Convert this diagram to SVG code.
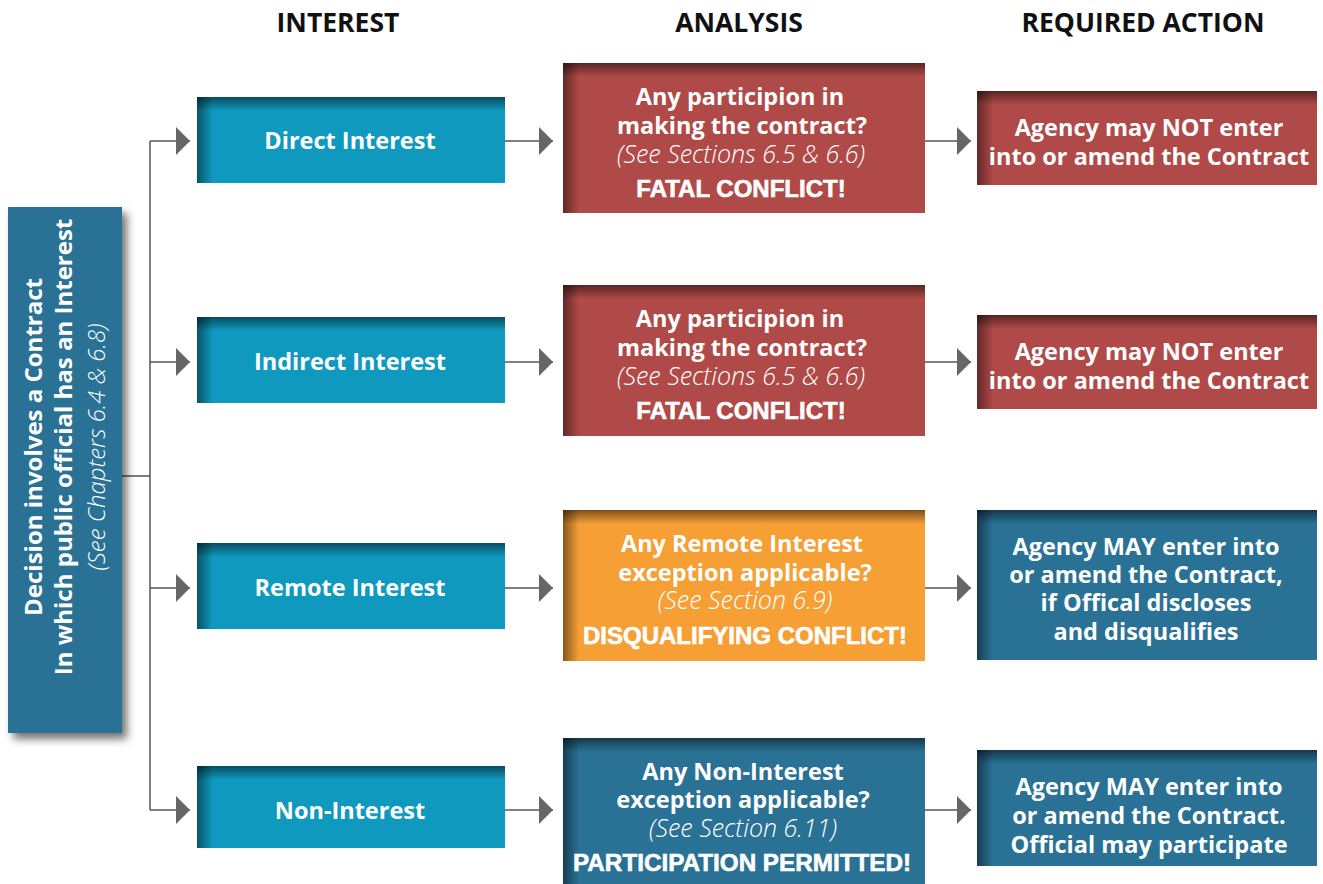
<svg xmlns="http://www.w3.org/2000/svg" width="1323" height="884" viewBox="0 0 1323 884">
<defs>
<style>
.hdr{font-family:"Open Sans","Liberation Sans",sans-serif;font-weight:700;font-size:26.5px;fill:#111;text-anchor:middle}
.t{font-family:"Open Sans","Liberation Sans",sans-serif;font-weight:700;font-size:23.5px;fill:#fff;text-anchor:middle}
.lt{font-family:"Open Sans","Liberation Sans",sans-serif;font-weight:700;font-size:24px;fill:#fff;text-anchor:middle}
.it{font-family:"Open Sans","Liberation Sans",sans-serif;font-style:italic;font-weight:300;font-size:24px;fill:#fff;text-anchor:middle}
.it2{font-family:"Open Sans","Liberation Sans",sans-serif;font-style:italic;font-weight:300;font-size:25px;fill:#fff;text-anchor:middle}
.bk{font-family:"Liberation Sans","Open Sans",sans-serif;font-weight:700;font-size:24px;fill:#fff;stroke:#fff;stroke-width:0.6;text-anchor:middle}
.cyan{fill:#0f99bf}
.red{fill:#b04a48}
.org{fill:#f59f35}
.blu{fill:#2a7196}
.conn{stroke:#555;stroke-width:1.5;fill:none}
</style>
<marker id="ah" markerUnits="userSpaceOnUse" markerWidth="14" markerHeight="28" refX="14" refY="14" orient="auto" viewBox="0 0 14 28">
<path d="M0,0 L14,14 L0,28 Z" fill="#666"/>
</marker>
<linearGradient id="gt" x1="0" y1="0" x2="0" y2="1">
<stop offset="0" stop-color="#000" stop-opacity="0.5"/>
<stop offset="1" stop-color="#000" stop-opacity="0"/>
</linearGradient>
<linearGradient id="gl" x1="0" y1="0" x2="1" y2="0">
<stop offset="0" stop-color="#000" stop-opacity="0.45"/>
<stop offset="1" stop-color="#000" stop-opacity="0"/>
</linearGradient>
<filter id="ds" x="-20%" y="-20%" width="150%" height="150%">
<feDropShadow dx="5" dy="6" stdDeviation="4" flood-color="#000" flood-opacity="0.55"/>
</filter>
</defs>
<rect width="1323" height="884" fill="#fff"/>

<g id="headers">
<text class="hdr" x="338" y="32">INTEREST</text>
<text class="hdr" x="739" y="32">ANALYSIS</text>
<text class="hdr" x="1143" y="32">REQUIRED ACTION</text>
</g>

<g id="connectors">
<path class="conn" d="M122,476 H150"/>
<path class="conn" d="M150,141 V810"/>
<path class="conn" d="M150,141 H190" marker-end="url(#ah)"/>
<path class="conn" d="M150,362 H190" marker-end="url(#ah)"/>
<path class="conn" d="M150,588 H190" marker-end="url(#ah)"/>
<path class="conn" d="M150,810 H190" marker-end="url(#ah)"/>
<path class="conn" d="M505,141 H553" marker-end="url(#ah)"/>
<path class="conn" d="M505,362 H553" marker-end="url(#ah)"/>
<path class="conn" d="M505,588 H553" marker-end="url(#ah)"/>
<path class="conn" d="M505,810 H553" marker-end="url(#ah)"/>
<path class="conn" d="M925,141 H971" marker-end="url(#ah)"/>
<path class="conn" d="M925,362 H971" marker-end="url(#ah)"/>
<path class="conn" d="M925,588 H971" marker-end="url(#ah)"/>
<path class="conn" d="M925,810 H971" marker-end="url(#ah)"/>
</g>

<g id="decision">
<rect class="blu" x="8" y="207" width="114" height="526" filter="url(#ds)"/>
<g transform="translate(65,447) rotate(-90)">
<text class="lt" x="0" y="-23">Decision involves a Contract</text>
<text class="lt" x="0" y="7">In which public official has an Interest</text>
<text class="it" x="0" y="40">(See Chapters 6.4 &amp; 6.8)</text>
</g>
</g>

<g id="direct-interest">
<rect class="cyan" x="197" y="97" width="308" height="86"/>
<rect x="197" y="97" width="308" height="14" fill="url(#gt)"/>
<rect x="197" y="97" width="16" height="86" fill="url(#gl)"/>
<text class="t" x="350" y="149">Direct Interest</text>
</g>
<g id="indirect-interest">
<rect class="cyan" x="197" y="317" width="308" height="86"/>
<rect x="197" y="317" width="308" height="14" fill="url(#gt)"/>
<rect x="197" y="317" width="16" height="86" fill="url(#gl)"/>
<text class="t" x="350" y="370">Indirect Interest</text>
</g>
<g id="remote-interest">
<rect class="cyan" x="197" y="543" width="308" height="86"/>
<rect x="197" y="543" width="308" height="14" fill="url(#gt)"/>
<rect x="197" y="543" width="16" height="86" fill="url(#gl)"/>
<text class="t" x="350" y="596">Remote Interest</text>
</g>
<g id="non-interest">
<rect class="cyan" x="197" y="766" width="308" height="82"/>
<rect x="197" y="766" width="308" height="14" fill="url(#gt)"/>
<rect x="197" y="766" width="16" height="82" fill="url(#gl)"/>
<text class="t" x="350" y="819">Non-Interest</text>
</g>

<g id="analysis-direct">
<rect class="red" x="563" y="63" width="362" height="150"/>
<rect x="563" y="63" width="362" height="14" fill="url(#gt)"/>
<rect x="563" y="63" width="16" height="150" fill="url(#gl)"/>
<text class="t" x="740" y="105">Any participion in</text>
<text class="t" x="742" y="134">making the contract?</text>
<text class="it2" x="741" y="163">(See Sections 6.5 &amp; 6.6)</text>
<text class="bk" x="741" y="197">FATAL CONFLICT!</text>
</g>
<g id="analysis-indirect">
<rect class="red" x="563" y="285" width="362" height="151"/>
<rect x="563" y="285" width="362" height="14" fill="url(#gt)"/>
<rect x="563" y="285" width="16" height="151" fill="url(#gl)"/>
<text class="t" x="740" y="327">Any participion in</text>
<text class="t" x="742" y="356">making the contract?</text>
<text class="it2" x="741" y="385">(See Sections 6.5 &amp; 6.6)</text>
<text class="bk" x="741" y="419">FATAL CONFLICT!</text>
</g>
<g id="analysis-remote">
<rect class="org" x="563" y="510" width="362" height="151"/>
<rect x="563" y="510" width="362" height="14" fill="url(#gt)"/>
<rect x="563" y="510" width="16" height="151" fill="url(#gl)"/>
<text class="t" x="742" y="552">Any Remote Interest</text>
<text class="t" x="745" y="581">exception applicable?</text>
<text class="it2" x="745" y="609">(See Section 6.9)</text>
<text class="bk" x="745" y="644">DISQUALIFYING CONFLICT!</text>
</g>
<g id="analysis-non">
<rect class="blu" x="563" y="738" width="362" height="146"/>
<rect x="563" y="738" width="362" height="14" fill="url(#gt)"/>
<rect x="563" y="738" width="16" height="146" fill="url(#gl)"/>
<text class="t" x="743" y="780">Any Non-Interest</text>
<text class="t" x="743" y="808">exception applicable?</text>
<text class="it2" x="743" y="837">(See Section 6.11)</text>
<text class="bk" x="742" y="871" textLength="338" lengthAdjust="spacingAndGlyphs">PARTICIPATION PERMITTED!</text>
</g>

<g id="action-direct">
<rect class="red" x="977" y="91" width="340" height="94"/>
<rect x="977" y="91" width="340" height="14" fill="url(#gt)"/>
<rect x="977" y="91" width="16" height="94" fill="url(#gl)"/>
<text class="t" x="1149" y="136">Agency may NOT enter</text>
<text class="t" x="1149" y="165">into or amend the Contract</text>
</g>
<g id="action-indirect">
<rect class="red" x="977" y="315" width="340" height="94"/>
<rect x="977" y="315" width="340" height="14" fill="url(#gt)"/>
<rect x="977" y="315" width="16" height="94" fill="url(#gl)"/>
<text class="t" x="1149" y="360">Agency may NOT enter</text>
<text class="t" x="1149" y="389">into or amend the Contract</text>
</g>
<g id="action-remote">
<rect class="blu" x="977" y="510" width="340" height="150"/>
<rect x="977" y="510" width="340" height="14" fill="url(#gt)"/>
<rect x="977" y="510" width="16" height="150" fill="url(#gl)"/>
<text class="t" x="1146" y="555">Agency MAY enter into</text>
<text class="t" x="1146" y="583">or amend the Contract,</text>
<text class="t" x="1146" y="611">if Offical discloses</text>
<text class="t" x="1146" y="640">and disqualifies</text>
</g>
<g id="action-non">
<rect class="blu" x="977" y="750" width="340" height="116"/>
<rect x="977" y="750" width="340" height="14" fill="url(#gt)"/>
<rect x="977" y="750" width="16" height="116" fill="url(#gl)"/>
<text class="t" x="1149" y="795">Agency MAY enter into</text>
<text class="t" x="1149" y="824">or amend the Contract.</text>
<text class="t" x="1149" y="853">Official may participate</text>
</g>
</svg>
